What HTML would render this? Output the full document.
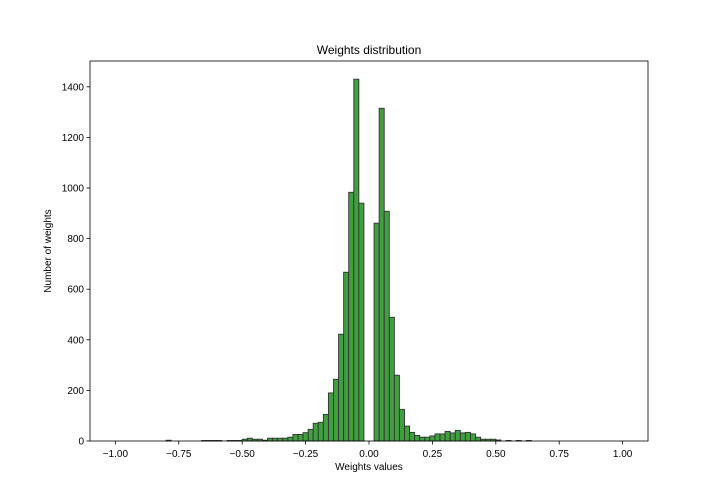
<!DOCTYPE html>
<html><head><meta charset="utf-8"><style>
body{margin:0;background:#fff;}
svg{display:block;font-family:"Liberation Sans","DejaVu Sans",sans-serif;}
</style></head><body>
<svg id="chart" width="720" height="504" viewBox="0 0 720 504">
<text x="369" y="54" font-size="12" text-anchor="middle">Weights distribution</text>
<g id="bars"></g>
<g id="xticks"></g>
<g id="yticks"></g>
<rect x="90" y="61" width="558" height="380" fill="none" stroke="#000" stroke-width="0.8"/>
<text x="369" y="470" font-size="10" text-anchor="middle">Weights values</text>
<text transform="translate(51,251) rotate(-90)" font-size="10" text-anchor="middle">Number of weights</text>
</svg>
<script>
const binStart = -1.0;
const binWidth = 0.02;
const counts = [0,0,0,0,0,0,0,0,0,0, 3,0,0,0,0,0,0,2,2,2, 2,0,2,2,2,7,11,7,7,3, 11,11,11,11,15,26,26,33,46,70, 74,105,190,244,422,667,983,1430,940,0, 0,861,1315,908,489,260,125,59,34,22, 15,15,20,28,28,38,32,42,32,34, 28,15,7,7,7,4,0,2,0,2, 0,2,0,0,0,0,0,0,0,0, 0,0,0,0,0,0,0,0,0,0];
const xTicks = [-1.0,-0.75,-0.5,-0.25,0,0.25,0.5,0.75,1.0];
const xTickLabels = ["−1.00","−0.75","−0.50","−0.25","0.00","0.25","0.50","0.75","1.00"];
const yTicks = [0,200,400,600,800,1000,1200,1400];

const L=90,R=648,T=61,B=441, xmin=-1.1,xmax=1.1, ymax=1502;
const xs=v=>L+(v-xmin)/(xmax-xmin)*(R-L);
const ys=v=>B-v/ymax*(B-T);
const NS="http://www.w3.org/2000/svg";
const bars=document.getElementById('bars');
counts.forEach((c,i)=>{
  const x0=xs(binStart+i*binWidth), x1=xs(binStart+(i+1)*binWidth);
  const r=document.createElementNS(NS,'rect');
  r.setAttribute('x',x0);r.setAttribute('width',x1-x0);
  r.setAttribute('y',ys(c));r.setAttribute('height',B-ys(c));
  r.setAttribute('fill','rgb(64,160,64)');r.setAttribute('stroke','#333');r.setAttribute('stroke-width','0.9');
  
  
  bars.appendChild(r);
});
const xg=document.getElementById('xticks');
xTicks.forEach((t,i)=>{
  const x=xs(t);
  const l=document.createElementNS(NS,'line');
  l.setAttribute('x1',x);l.setAttribute('x2',x);l.setAttribute('y1',B);l.setAttribute('y2',B+3.5);l.setAttribute('stroke','#000');l.setAttribute('stroke-width','0.8');
  
  
  xg.appendChild(l);
  const tx=document.createElementNS(NS,'text');
  tx.setAttribute('x',x);tx.setAttribute('y',B+16);tx.setAttribute('font-size','10');tx.setAttribute('text-anchor','middle');
  tx.textContent=xTickLabels[i];
  
  
  xg.appendChild(tx);
});
const yg=document.getElementById('yticks');
yTicks.forEach(t=>{
  const y=ys(t);
  const l=document.createElementNS(NS,'line');
  l.setAttribute('x1',L-3.5);l.setAttribute('x2',L);l.setAttribute('y1',y);l.setAttribute('y2',y);l.setAttribute('stroke','#000');l.setAttribute('stroke-width','0.8');
  
  
  yg.appendChild(l);
  const tx=document.createElementNS(NS,'text');
  tx.setAttribute('x',L-6);tx.setAttribute('y',y+3.5);tx.setAttribute('font-size','10');tx.setAttribute('text-anchor','end');
  tx.textContent=String(t);
  
  
  yg.appendChild(tx);
});
</script>
</body></html>
